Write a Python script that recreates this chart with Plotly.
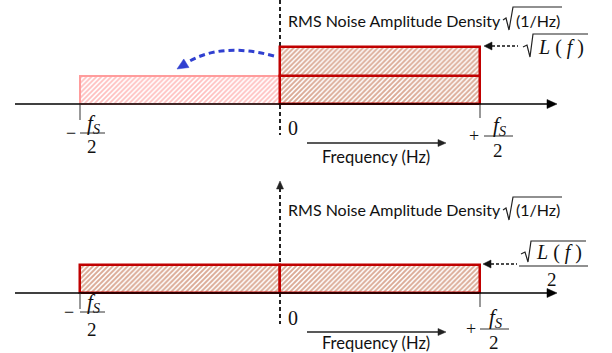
import math
import plotly.graph_objects as go

# ---------------- data (frequency in units of fs/2, density normalised to sqrt(L(f)) = 1) -------------
L_SQRT = 1.0
band_centers = [-0.5, 0.5]          # centre of [-fs/2, 0] and [0, +fs/2]
band_width = 1.0
one_sided_layers = [L_SQRT / 2, L_SQRT / 2]   # stacked halves on the positive side (top panel)
folded_half = [L_SQRT / 2]                    # half folded to the negative side (top panel)
two_sided = [L_SQRT / 2, L_SQRT / 2]          # two-sided density (bottom panel)
title_text = "RMS Noise Amplitude Density"
unit_text = "(1/Hz)"
freq_label = "Frequency (Hz)"

W, H = 612, 353
PX_PER_X = 200.0
PX_PER_Y = 57.0
X0PX = 280.0
BASE = [104.0, 293.0]
PANEL_PX = [(0.0, 176.0), (176.0, 353.0)]
REFS = [("x", "y"), ("x2", "y2")]


def X(px):
    return (px - X0PX) / PX_PER_X


def Y(py, p):
    return (BASE[p] - py) / PX_PER_Y


fig = go.Figure()

RED = "#c00000"
HATCH = "#b8572e"
PINK_LINE = "#ff9c9c"
PINK_HATCH = "#ff7f7f"


def bar(xc, h, base, p, fg, lc, lw, solidity):
    fig.add_trace(go.Bar(
        x=[xc], y=[h], base=[base], width=[band_width],
        xaxis=REFS[p][0], yaxis=REFS[p][1],
        marker=dict(color="white",
                    pattern=dict(shape="/", fgcolor=fg, bgcolor="white", size=3.5, solidity=solidity),
                    line=dict(color=lc, width=lw)),
        showlegend=False, hoverinfo="skip"))


# top panel: folded half (pink) then one-sided stacked halves
bar(band_centers[0], folded_half[0], 0, 0, PINK_HATCH, PINK_LINE, 2, 0.5)
b = 0
for h in one_sided_layers:
    bar(band_centers[1], h, b, 0, HATCH, RED, 2.5, 0.55)
    b += h
# bottom panel
for xc, h in zip(band_centers, two_sided):
    bar(xc, h, 0, 1, HATCH, RED, 2.5, 0.55)


def line(p0, p1, p, color="black", width=1.5, dash="solid", layer="above"):
    fig.add_shape(type="line", x0=X(p0[0]), y0=Y(p0[1], p), x1=X(p1[0]), y1=Y(p1[1], p),
                  xref=REFS[p][0], yref=REFS[p][1], layer=layer,
                  line=dict(color=color, width=width, dash=dash))


def poly(pts, p, color="black", width=1.2, closed=False, fill=None):
    d = "M " + " L ".join(f"{X(a)},{Y(c, p)}" for a, c in pts)
    if closed:
        d += " Z"
    fig.add_shape(type="path", path=d, xref=REFS[p][0], yref=REFS[p][1],
                  line=dict(color=color, width=width), fillcolor=fill)


def head(tip, frm, p, length=9, hw=4, color="black"):
    dx, dy = tip[0] - frm[0], tip[1] - frm[1]
    n = math.hypot(dx, dy)
    ux, uy = dx / n, dy / n
    bx, by = tip[0] - ux * length, tip[1] - uy * length
    nx, ny = -uy, ux
    poly([tip, (bx + nx * hw, by + ny * hw), (bx - nx * hw, by - ny * hw)], p,
         color=color, width=0.5, closed=True, fill=color)


def text(px, py, s, p, size=15, family="Lato", color="#111", xanchor="center"):
    fig.add_annotation(x=X(px), y=Y(py, p), xref=REFS[p][0], yref=REFS[p][1], text=s,
                       showarrow=False, xanchor=xanchor, yanchor="middle",
                       font=dict(size=size, family=family, color=color))


SERIF = "Liberation Serif"

for p in (0, 1):
    base = BASE[p]
    off = 0 if p == 0 else 190
    # horizontal frequency axis
    line((15, base), (549, base), p, width=1.6)
    head((557, base), (540, base), p, length=10, hw=4.5)
    # ticks at -fs/2 and +fs/2
    line((80, base), (80, base + 16), p, color="#333", width=1)
    line((480, base), (480, base + 14), p, color="#333", width=1)
    # title with radical
    text(286, 20 + off, title_text, p, size=16, xanchor="left")
    text(562, 20 + off, unit_text, p, size=16, xanchor="right")
    poly([(503, 20 + off), (506, 18 + off), (509, 30 + off), (513, 7 + off), (562, 7 + off)], p,
         color="#222", width=1.2)
    # frequency arrow + label
    fa = 143 if p == 0 else 332
    line((307, fa), (438, fa), p, color="#222", width=1.5)
    head((446, fa), (430, fa), p, length=8, hw=3.5, color="#222")
    text(376, fa + (14 if p == 0 else 11), freq_label, p, size=16.5)

# vertical dashed axes
line((280, 0), (280, 135), 0, color="#222", width=2, dash="4px,3px", layer="below")
line((280, 188), (280, 324), 1, color="#222", width=2, dash="4px,3px", layer="below")
head((280, 181), (280, 195), 1, length=8, hw=3.5, color="#222")

# zero labels
text(293, 128, "0", 0, size=20, family=SERIF)
text(293, 318, "0", 1, size=20, family=SERIF)


def fs_half(sign, sx, fy, lx0, lx1, ly, twoy, p):
    text(sx, ly, sign, p, size=18, family=SERIF)
    text((lx0 + lx1) / 2 + 1, fy, "<i>f<sub>S</sub></i>", p, size=21, family=SERIF)
    line((lx0, ly), (lx1, ly), p, color="#333", width=1)
    text((lx0 + lx1) / 2 - 1, twoy, "2", p, size=19, family=SERIF)


fs_half("\u2212", 71, 124, 80, 105, 133, 146, 0)
fs_half("+", 474, 126, 484, 513, 136, 150, 0)
fs_half("\u2212", 69, 303, 80, 105, 312, 329, 1)
fs_half("+", 471, 318, 480, 509, 329, 342, 1)

# sqrt(L(f)) labels with dashed pointer arrows
LF = "<i>L</i> ( <i>f</i> )"
# top
line((492, 46), (518, 46), 0, color="#111", width=1.5, dash="3px,2px")
head((484, 46), (495, 46), 0, length=8, hw=4, color="#111")
poly([(523, 47), (527, 45), (530, 57), (533, 34), (588, 34)], 0, color="#222", width=1.2)
text(561, 47, LF, 0, size=20, family=SERIF)
# bottom
line((491, 264), (517, 264), 1, color="#111", width=1.5, dash="3px,2px")
head((483, 264), (494, 264), 1, length=8, hw=4, color="#111")
poly([(521, 254), (525, 252), (528, 262), (531, 241), (586, 241)], 1, color="#222", width=1.2)
text(559, 253, LF, 1, size=20, family=SERIF)
line((519, 266), (588, 266), 1, color="#222", width=1.2)
text(552, 279, "2", 1, size=19, family=SERIF)

# blue curved dashed arrow (folding)
BLUE = "#3040d0"
fig.add_shape(type="path",
              path=f"M {X(274)},{Y(56, 0)} Q {X(222)},{Y(42, 0)} {X(188)},{Y(62, 0)}",
              xref="x", yref="y", line=dict(color=BLUE, width=3, dash="6px,4px"))
head((177, 69), (190, 61), 0, length=11, hw=5, color=BLUE)


def yr(p):
    p0, p1 = PANEL_PX[p]
    return [(BASE[p] - p1) / PX_PER_Y, (BASE[p] - p0) / PX_PER_Y]


xr = [X(0), X(W)]
ax_common = dict(visible=False, fixedrange=True, showgrid=False, zeroline=False)
fig.update_layout(
    width=W, height=H, margin=dict(l=0, r=0, t=0, b=0, pad=0),
    paper_bgcolor="white", plot_bgcolor="white", barmode="overlay", bargap=0,
    xaxis=dict(range=xr, domain=[0, 1], anchor="y", **ax_common),
    yaxis=dict(range=yr(0), domain=[1 - 176 / H, 1], anchor="x", **ax_common),
    xaxis2=dict(range=xr, domain=[0, 1], anchor="y2", **ax_common),
    yaxis2=dict(range=yr(1), domain=[0, 1 - 176 / H], anchor="x2", **ax_common),
)

fig.write_html("out.html", config={"displayModeBar": False},
               post_script="document.body.style.margin='0px';document.body.style.overflow='hidden';")
